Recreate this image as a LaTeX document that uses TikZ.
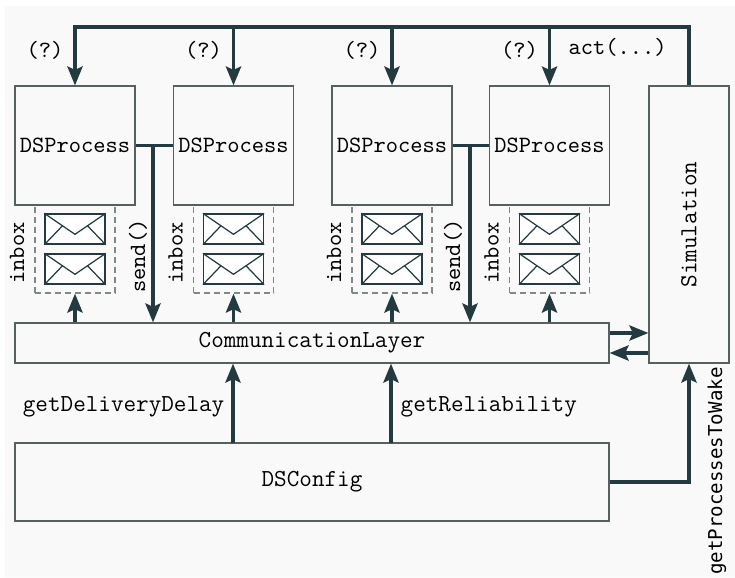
\documentclass[tikz,border=0pt]{standalone}
\usepackage{fontspec}
\newfontfamily\wakefont{DejaVu Sans Mono}
\usetikzlibrary{arrows.meta,calc}
\definecolor{linec}{HTML}{233B40}
\definecolor{framec}{HTML}{56615F}
\definecolor{dashc}{HTML}{80898A}
\definecolor{bgc}{HTML}{F9F9F9}
\begin{document}
\begin{tikzpicture}[x=0.45pt,y=-0.45pt,
    component/.style ={rectangle, draw=framec, line width=0.55pt, inner sep=0pt, font=\ttfamily\fontsize{11}{13}\selectfont},
    process/.style ={component, minimum width=54pt, minimum height=53.5pt, font=\ttfamily\fontsize{10.5}{12}\selectfont},
    mailbox/.style ={draw=dashc, dash pattern=on 2.7pt off 1.8pt, line width=0.55pt, minimum width=36pt, minimum height=39.6pt, inner sep=0pt},
    mail/.style ={draw=linec, fill=white, line width=0.55pt, minimum width=27pt, minimum height=13.5pt, inner sep=0pt},
    lbl/.style ={inner sep=1pt, font=\ttfamily\fontsize{10.5}{12}\selectfont},
    biglbl/.style ={inner sep=1pt, font=\ttfamily\fontsize{11}{13}\selectfont},
    flow/.style ={draw=linec, line width=1.6pt},
    >={Stealth[length=8.5pt,width=6.8pt,inset=1.5pt]}]
   \useasboundingbox (0,0) rectangle (735,577);
   \fill[bgc] (5,6) rectangle (735,577);
   % processes with their inboxes
   \foreach \i/\px in {1/75,2/233.5,3/392,4/549.5} {
     \node[mailbox] (box\i) at (\px,249) {};
     \node[process] (proc\i) at (\px,145.5) {DSProcess};
     \node[mail] (mailA\i) at (\px,229) {};
     \node[mail] (mailB\i) at (\px,269) {};
     \node[lbl, rotate=90] (in\i) at (\px-58,253) {inbox};
   }
   \foreach \i in {1,...,4} \foreach \m in {mailA\i,mailB\i} {
     \draw[linec, line width=0.55pt] (\m.north west) -- ($(\m.north)!0.67!(\m.south)$) -- (\m.north east);
     \draw[linec, line width=0.55pt] (\m.south west) -- ($(\m.north west)!0.4!(\m.south west)+(18,0)$);
     \draw[linec, line width=0.55pt] (\m.south east) -- ($(\m.north east)!0.4!(\m.south east)+(-18,0)$);
   }
   \node[component, minimum width=36pt, minimum height=124.6pt] (sim) at (689,224.5) {};
   \node[biglbl, rotate=90] (simtxt) at (sim) {Simulation};
   \node[component, minimum width=267.3pt, minimum height=18pt] (comm) at (312,343) {CommunicationLayer};
   \node[component, minimum width=267.3pt, minimum height=35.1pt] (config) at (312,482) {DSConfig};
   % act(...) bus
   \coordinate (bus) at (0,27);
   \draw[flow, ->] (sim.north) |- (proc1.north |- bus) -- (proc1.north);
   \foreach \i in {2,3,4} \draw[flow, ->] (proc\i.north |- bus) -- (proc\i.north);
   \foreach \i in {1,...,4} \node[lbl] (q\i) at ($(proc\i.north |- bus)+(-30,23)$) {(?)};
   \node[lbl, anchor=west] (act) at (566,47) {act(...)};
   % send()
   \coordinate (s1) at (153,145.5);
   \coordinate (s3) at (470,145.5);
   \draw[flow] (proc1.east) -- (proc2.west);
   \draw[flow] (proc3.east) -- (proc4.west);
   \draw[flow, ->] (s1) -- (s1 |- comm.north);
   \draw[flow, ->] (s3) -- (s3 |- comm.north);
   \node[lbl, rotate=90] (send1) at (138,256) {send()};
   \node[lbl, rotate=90] (send3) at (453,256) {send()};
   \foreach \i in {1,...,4} \draw[flow, ->] (box\i.south |- comm.north) -- (box\i.south);
   % layer <-> simulation
   \coordinate (ctos) at ($(comm.east)+(0,-10)$);
   \coordinate (stoc) at ($(comm.east)+(0,10)$);
   \draw[flow, ->] (ctos) -- (ctos -| sim.west);
   \draw[flow, ->] (stoc -| sim.west) -- (stoc);
   % config
   \coordinate (delay) at (233,443);
   \coordinate (rel) at (391,443);
   \draw[flow, ->] (delay) -- (delay |- comm.south);
   \draw[flow, ->] (rel) -- (rel |- comm.south);
   \node[biglbl, anchor=east] (gdd) at (227,407) {getDeliveryDelay};
   \node[biglbl, anchor=west] (grel) at (398,407) {getReliability};
   \draw[flow, ->] (config.east) -| (sim.south);
   \node[inner sep=0pt, rotate=90, font=\wakefont\fontsize{8.6}{10}\selectfont] (wake) at (717,471) {getProcessesToWake};
 \end{tikzpicture}
\end{document}
